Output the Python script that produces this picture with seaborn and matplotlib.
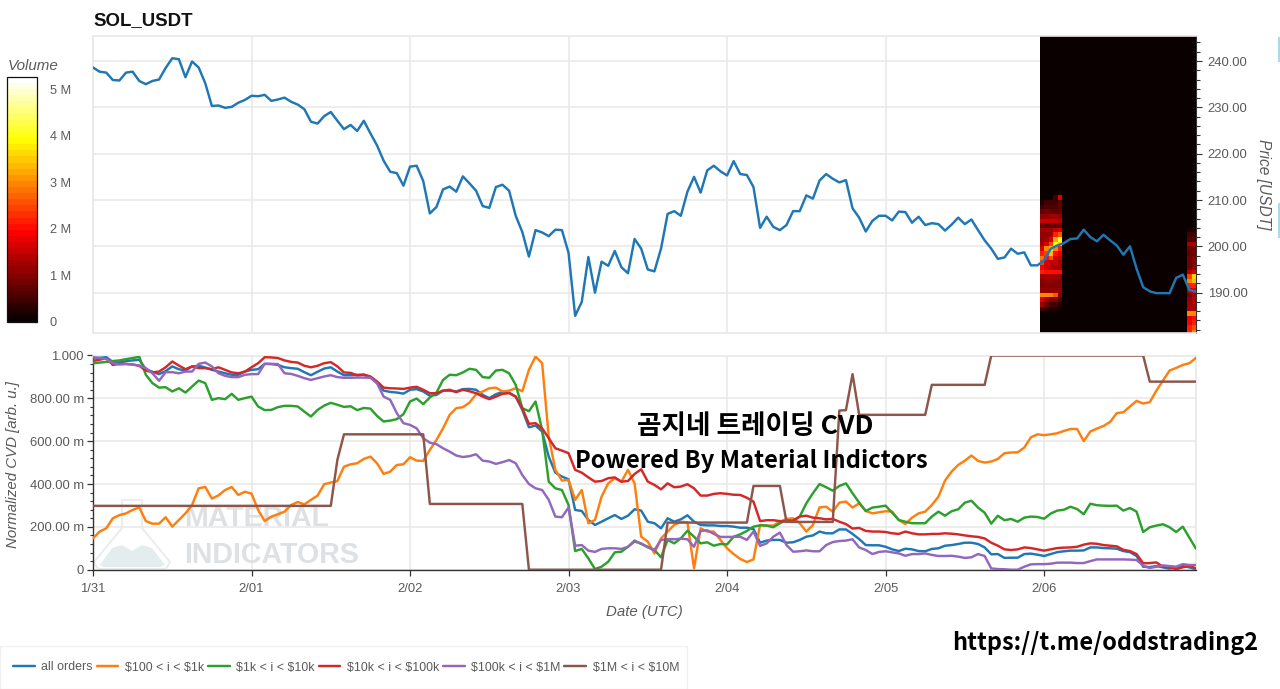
import numpy as np
import pandas as pd
import matplotlib
matplotlib.use("Agg")
import matplotlib.pyplot as plt
import seaborn as sns
from matplotlib.cm import ScalarMappable
from matplotlib.colors import Normalize
from matplotlib.patches import Polygon, Rectangle
from matplotlib.ticker import MultipleLocator, FuncFormatter

price = [238.6,237.7,237.5,235.9,235.8,237.5,237.7,235.7,235.0,235.7,236.0,238.5,240.6,240.4,236.5,239.9,238.6,235.2,230.3,230.4,229.9,230.1,231.0,231.6,
232.5,232.4,232.7,231.4,231.7,232.1,231.2,230.6,229.6,226.9,226.5,228.1,229.0,227.1,225.3,226.2,224.9,227.1,224.4,221.8,218.5,216.1,215.8,213.1,
217.2,217.4,214.1,207.1,208.5,212.3,212.9,211.8,215.1,213.6,212.0,208.7,208.3,212.8,213.3,212.0,206.6,203.1,197.8,203.5,203.0,202.2,203.6,203.5,
198.6,185.0,188.0,197.7,190.0,196.7,195.8,199.0,195.5,194.2,201.6,199.5,
195.0,194.6,199.5,207.0,207.6,206.6,211.8,215.0,211.6,216.4,217.4,216.2,215.3,218.4,215.6,215.4,212.8,204.0,206.4,204.2,203.5,204.6,207.6,207.6,
211.0,210.3,214.2,215.6,214.6,213.8,214.3,208.2,206.2,203.2,205.5,206.6,206.6,205.6,207.5,207.4,205.1,206.4,204.6,205.0,204.8,203.4,204.7,206.2,
204.8,205.8,203.5,201.3,199.5,197.3,197.6,199.5,198.4,198.7,195.9,195.9,197.0,199.5,200.2,200.7,201.6,201.7,203.6,202.0,201.1,202.5,201.3,200.2,
198.2,200.0,195.2,191.2,190.3,189.9,189.9,189.9,193.2,193.9,190.6,190.2]

all_orders = [.988,.989,.992,.970,.967,.974,.977,.980,.936,.924,.913,.927,.949,.936,.930,.949,.952,.944,.933,.925,.917,.910,.910,.925,.933,.936,.961,.960,.956,.945,.941,.938,.922,.908,.924,.939,.945,.925,.908,.908,.910,.910,.899,
.871,.836,.830,.827,.822,.840,.843,.832,.812,.816,.836,.836,.832,.843,.844,.840,.816,.801,.819,.830,.827,.808,.746,.665,.673,.645,.528,.453,.435,.422,.279,.274,.232,.209,.224,.240,.255,.237,.252,.282,.276,.224,
.217,.193,.240,.224,.235,.254,.224,.209,.207,.207,.204,.204,.201,.196,.196,.190,.126,.136,.139,.139,.126,.128,.139,.154,.160,.178,.170,.170,.188,.188,.167,.143,.115,.114,.114,.107,.095,.087,.098,.095,.087,.086,.097,
.100,.112,.115,.120,.126,.126,.120,.104,.072,.073,.055,.056,.056,.073,.075,.070,.064,.073,.082,.086,.089,.089,.090,.104,.104,.101,.100,.098,.087,.082,.064,.014,.012,.017,.011,.005,.011,.017,.011,.002]

orders_100_1k = [.146,.178,.193,.240,.255,.263,.279,.291,.227,.215,.215,.245,.201,.232,.263,.302,.380,.386,.332,.347,.372,.386,.349,.364,.355,.279,.227,.248,.259,.271,.302,.316,.305,.326,.346,.399,.407,.414,.481,.492,.497,.517,.528,
.497,.447,.458,.489,.492,.525,.509,.508,.559,.606,.660,.723,.754,.759,.780,.819,.832,.847,.850,.832,.836,.847,.833,.933,.995,.964,.621,.466,.416,.419,.326,.372,.217,.232,.341,.403,.427,.411,.466,.403,.154,.131,
.076,.146,.178,.209,.224,.221,.006,.193,.178,.178,.139,.100,.073,.050,.036,.048,.209,.206,.206,.224,.237,.240,.217,.178,.209,.291,.294,.271,.313,.318,.290,.310,.274,.263,.268,.273,.271,.232,.213,.243,.263,.271,.302,
.341,.416,.458,.489,.509,.533,.508,.500,.505,.517,.544,.547,.548,.570,.618,.632,.628,.632,.637,.648,.657,.657,.600,.645,.659,.671,.690,.731,.735,.762,.788,.776,.782,.836,.883,.930,.942,.956,.964,.989]

orders_1k_10k = [.964,.967,.970,.974,.977,.983,.988,.994,.910,.871,.850,.852,.832,.847,.827,.855,.883,.871,.793,.801,.796,.821,.793,.801,.808,.762,.745,.746,.759,.765,.765,.762,.738,.715,.746,.766,.779,.770,.760,.763,.745,.755,.752,
.718,.692,.696,.703,.726,.785,.799,.773,.804,.827,.886,.910,.908,.921,.938,.933,.899,.896,.930,.933,.917,.863,.754,.740,.785,.653,.411,.380,.372,.302,.087,.097,.053,.003,.014,.037,.081,.084,.107,.136,.120,.107,
.092,.058,.139,.123,.146,.182,.154,.123,.128,.112,.120,.118,.154,.165,.181,.201,.207,.206,.198,.217,.232,.229,.248,.310,.357,.400,.385,.369,.391,.403,.357,.313,.274,.290,.294,.299,.266,.232,.224,.217,.217,.217,.248,
.271,.252,.273,.282,.313,.322,.290,.266,.215,.252,.231,.237,.224,.243,.248,.246,.238,.262,.276,.280,.294,.283,.259,.308,.301,.299,.298,.299,.276,.288,.271,.176,.198,.206,.212,.198,.176,.201,.150,.098]

orders_10k_100k = [.975,.980,.988,.956,.961,.961,.958,.952,.930,.921,.925,.945,.972,.953,.936,.949,.941,.941,.936,.945,.933,.921,.917,.925,.945,.964,.992,.991,.988,.977,.970,.967,.952,.945,.952,.964,.969,.949,.921,.919,.907,.911,.902,
.879,.850,.847,.846,.844,.850,.854,.840,.824,.824,.836,.840,.829,.840,.833,.824,.808,.796,.808,.821,.824,.808,.754,.681,.684,.660,.614,.567,.556,.544,.466,.453,.431,.411,.414,.427,.431,.411,.414,.447,.469,.411,
.396,.375,.403,.385,.388,.399,.380,.346,.346,.354,.357,.354,.350,.349,.336,.318,.227,.231,.231,.227,.224,.229,.248,.252,.243,.240,.235,.237,.224,.213,.192,.195,.181,.178,.178,.176,.170,.167,.178,.170,.165,.165,.167,
.167,.170,.168,.165,.160,.156,.153,.146,.126,.112,.095,.092,.095,.104,.101,.095,.089,.095,.101,.103,.104,.107,.117,.123,.121,.115,.112,.109,.093,.087,.073,.030,.031,.034,.014,.011,.003,.011,.019,.006]

orders_100k_1m = [.992,.988,.984,.964,.958,.960,.958,.953,.941,.917,.882,.922,.922,.917,.925,.925,.961,.967,.949,.917,.905,.899,.899,.910,.913,.913,.961,.961,.960,.917,.914,.905,.894,.886,.894,.902,.908,.899,.896,.896,.897,.897,.896,
.871,.808,.793,.731,.684,.676,.660,.614,.593,.586,.567,.551,.533,.526,.530,.539,.509,.505,.494,.502,.512,.497,.442,.400,.380,.372,.326,.248,.245,.290,.112,.115,.089,.083,.097,.100,.100,.097,.107,.131,.123,.104,
.092,.139,.143,.142,.145,.142,.107,.181,.184,.167,.153,.153,.153,.154,.139,.178,.111,.123,.154,.173,.115,.084,.086,.090,.086,.086,.115,.129,.134,.136,.142,.104,.092,.073,.083,.086,.081,.076,.065,.073,.073,.076,.069,
.064,.064,.065,.061,.055,.058,.073,.064,.006,.003,.002,.000,.000,.014,.025,.026,.026,.028,.033,.033,.033,.031,.031,.040,.048,.048,.048,.048,.048,.047,.045,.019,.008,.014,.020,.017,.014,.026,.022,.022]

orders_1m_10m = [.298,.298,.298,.298,.298,.298,.298,.298,.298,.298,.298,.298,.298,.298,.298,.298,.298,.298,.298,.298,.298,.298,.298,.298,.298,.298,.298,.298,.298,.298,.298,.298,.298,.298,.298,.298,.298,
.513,.632,.632,.632,.632,.632,.632,.632,.632,.632,.632,.632,.632,.632,
.307,.307,.307,.307,.307,.307,.307,.307,.307,.307,.307,.307,.307,.307,.307,
0,0,0,0,0,0,0,0,0,0,0,0,0,0,0,0,0,0,0,0,0,
.220,.220,.220,.220,.220,.220,.220,.220,.220,.220,.220,.220,.220,
.391,.391,.391,.391,.391,
.223,.223,.223,.223,.223,.223,.223,.223,
.743,.745,.913,
.723,.723,.723,.723,.723,.723,.723,.723,.723,.723,.723,
.863,.863,.863,.863,.863,.863,.863,.863,.863,
1,1,1,1,1,1,1,1,1,1,1,1,1,1,1,1,1,1,1,1,1,1,1,1,
.878,.878,.878,.878,.878,.878,.878,.878]

series_names = ["all orders", "$100 < i < $1k", "$1k < i < $10k", "$10k < i < $100k", "$100k < i < $1M", "$1M < i < $10M"]
series_colors = ["#1f77b4", "#ff7f0e", "#2ca02c", "#d62728", "#9467bd", "#8c564b"]
day_labels = ["1/31", "2/01", "2/02", "2/03", "2/04", "2/05", "2/06"]

# volume in millions: price rows 181..211, low to high
heat_left = [
[.04,.04,.04,.04,.04],[.04,.04,.04,.04,.04],[.04,.04,.04,.04,.04],[.04,.04,.04,.04,.04],[.04,.04,.04,.04,.04],
[.5,.3,.15,.2,.1],[1.2,.8,.5,.5,.3],[1.6,1.2,1.0,1.0,.6],[3.0,3.0,3.0,2.6,1.0],[1.1,1.1,1.1,1.1,1.1],
[1.0,1.0,1.0,1.0,1.0],[1.0,1.1,1.1,1.0,1.0],[1.2,1.3,1.2,1.2,1.1],[2.2,2.1,2.0,2.0,2.0],[1.9,1.5,1.4,1.3,1.3],
[2.5,1.6,1.4,1.5,1.3],[2.8,2.0,2.6,1.6,1.5],[2.2,2.4,3.3,2.0,1.8],[1.6,3.0,3.5,3.0,2.2],[1.3,1.6,2.4,4.0,3.6],
[1.1,1.2,1.6,3.2,4.0],[1.1,1.1,1.3,2.2,2.6],[1.3,1.3,1.3,1.5,1.6],[.8,.7,.7,.7,.8],[1.5,1.5,1.5,1.5,1.4],
[1.1,1.1,1.2,1.2,1.1],[.7,.8,.7,.7,.7],[.5,.6,.6,.6,.7],[.15,.4,.4,.5,.7],[.05,.05,.05,.4,1.6],[.0,.0,.0,.05,.2]]
heat_right = [
[2.2,3.0],[2.2,2.6],[1.9,2.2],[1.8,2.0],[3.0,3.0],[1.2,1.3],[1.2,1.4],[1.1,1.4],[.9,1.2],[1.4,1.6],
[2.2,2.2],[3.0,3.4],[2.4,3.6],[1.4,1.7],[.9,1.1],[.9,1.0],[.8,1.0],[.7,.9],[.8,.8],[1.3,1.3],
[.6,.6],[.4,.4],[.2,.25],[.1,.1]]

W, H = 1280, 689
def rect(l, t, r, b):
    return [l / W, 1 - b / H, (r - l) / W, (b - t) / H]

sns.set_theme(style="white")
plt.rcParams["font.family"] = ["Liberation Sans", "Noto Sans CJK KR"]
GREY = "#5a5a5a"
GRID = "#e8e8e8"
LW = 1.75

fig = plt.figure(figsize=(W / 100, H / 100), dpi=100, facecolor="white")
ax1 = fig.add_axes(rect(93, 36, 1196, 333))
ax2 = fig.add_axes(rect(93, 355.5, 1196, 569.7))
cax = fig.add_axes(rect(7, 77, 37, 321.5))

hours = np.arange(len(price))
day_ticks = np.arange(len(day_labels)) * 24

# top panel
grid_time = np.linspace(143.35, 167.0, 36)
grid_price = np.arange(181, 247)
volume = np.zeros((len(grid_price) - 1, len(grid_time) - 1))
volume[:len(heat_left), :5] = heat_left
volume[:len(heat_right), -2:] = heat_right
cmap = matplotlib.colormaps["hot"].resampled(40)
norm = Normalize(0, 5.27)
ax1.pcolormesh(grid_time, grid_price, volume, cmap=cmap, norm=norm, zorder=1.5, rasterized=True)
sns.lineplot(x=hours, y=price, ax=ax1, color=series_colors[0], lw=LW, zorder=3, estimator=None)
ax1.set_xlim(0, 167)
ax1.set_ylim(181.3, 245.4)
ax1.yaxis.tick_right()
ax1.yaxis.set_label_position("right")
ax1.yaxis.set_major_locator(MultipleLocator(10))
ax1.yaxis.set_minor_locator(MultipleLocator(2))
ax1.yaxis.set_major_formatter(FuncFormatter(lambda v, p: f"{v:.2f}"))
ax1.set_xticks(day_ticks)
ax1.tick_params(axis="x", length=0, labelbottom=False)
ax1.tick_params(axis="y", which="major", right=True, length=4.5, width=0.8, color="#333333", labelsize=9.4, labelcolor=GREY, pad=4)
ax1.tick_params(axis="y", which="minor", right=True, length=2.8, width=0.8, color="#333333")
ax1.set_ylabel("Price [USDT]", rotation=270, style="italic", fontsize=11.2, color=GREY, labelpad=17)
ax1.grid(True, which="major", color=GRID, lw=1.1)
ax1.set_axisbelow(True)
for s in ["top", "left", "bottom"]:
    ax1.spines[s].set_color(GRID)
    ax1.spines[s].set_linewidth(1.2)
ax1.spines["right"].set_color("#333333")
ax1.spines["right"].set_linewidth(0.8)
fig.text(93 / W, 1 - 21 / H, "SOL_USDT", fontsize=13.4, fontweight="bold", color="#111111", va="center", ha="left")

# colour bar
sm = ScalarMappable(norm=norm, cmap=cmap)
cb = fig.colorbar(sm, cax=cax)
cb.set_ticks([0, 1, 2, 3, 4, 5], labels=["0", "1 M", "2 M", "3 M", "4 M", "5 M"])
cax.tick_params(axis="y", direction="in", length=2.5, width=0.8, color="#222222", labelsize=9.2, labelcolor=GREY, pad=9, right=True)
cb.outline.set_edgecolor("#111111")
cb.outline.set_linewidth(0.9)
fig.text(8 / W, 1 - 65.5 / H, "Volume", fontsize=10.9, style="italic", color=GREY, va="center", ha="left")

# lower panel
cvd = pd.DataFrame({"hour": hours, series_names[0]: all_orders, series_names[1]: orders_100_1k,
                    series_names[2]: orders_1k_10k, series_names[3]: orders_10k_100k,
                    series_names[4]: orders_100k_1m, series_names[5]: orders_1m_10m})
long = cvd.melt("hour", var_name="bucket", value_name="cvd")
sns.lineplot(data=long, x="hour", y="cvd", hue="bucket", hue_order=series_names,
             palette=dict(zip(series_names, series_colors)), lw=LW, ax=ax2, estimator=None, zorder=3)
handles, labels = ax2.get_legend_handles_labels()
ax2.get_legend().remove()
ax2.set_xlim(0, 167)
ax2.set_ylim(0, 1)
ax2.set_xticks(day_ticks, labels=day_labels)
ax2.yaxis.set_major_locator(MultipleLocator(0.2))
ax2.yaxis.set_minor_locator(MultipleLocator(0.04))
def cvd_fmt(v, p):
    if v < 1e-6:
        return "0"
    if v > 0.999:
        return "1.000"
    return f"{v * 1000:.2f} m"
ax2.yaxis.set_major_formatter(FuncFormatter(cvd_fmt))
ax2.tick_params(axis="x", which="major", bottom=True, length=4.5, width=0.9, color="#333333", labelsize=9.4, labelcolor=GREY, pad=5)
ax2.tick_params(axis="y", which="major", left=True, length=4.5, width=0.9, color="#333333", labelsize=9.4, labelcolor=GREY, pad=2)
ax2.tick_params(axis="y", which="minor", left=True, length=2.4, width=0.8, color="#333333")
ax2.grid(True, which="major", color=GRID, lw=1.1)
ax2.set_axisbelow(True)
ax2.set_xlabel("Date (UTC)", style="italic", fontsize=10.8, color=GREY)
ax2.xaxis.set_label_coords(0.5, -0.165)
ax2.set_ylabel("Normalized CVD [arb. u.]", style="italic", fontsize=10.8, color=GREY)
ax2.yaxis.set_label_coords((20 - 93) / 1103, 0.49)
ax2.spines["top"].set_color(GRID)
ax2.spines["right"].set_color(GRID)
ax2.spines["top"].set_linewidth(1.2)
ax2.spines["right"].set_linewidth(1.2)
for s in ["left", "bottom"]:
    ax2.spines[s].set_color("#333333")
    ax2.spines[s].set_linewidth(1.0)

# watermark
WM = "#dde1e4"
ax2.text((184 - 93) / 1103, (569.7 - 519) / 214.2, "MATERIAL", transform=ax2.transAxes, fontsize=20.5, fontweight="bold", color=WM, va="center", ha="left", zorder=1)
ax2.text((184 - 93) / 1103, (569.7 - 555) / 214.2, "INDICATORS", transform=ax2.transAxes, fontsize=20.6, fontweight="bold", color=WM, va="center", ha="left", zorder=1)
def px(pts):
    return [(x / W, 1 - y / H) for x, y in pts]
fig.add_artist(Polygon(px([(122, 500), (142, 500), (142, 528), (170, 562), (166, 569), (98, 569), (94, 562), (122, 528)]),
                       closed=True, fill=False, edgecolor="#e9edee", lw=1.4, zorder=0.5))
fig.add_artist(Polygon(px([(100, 565), (112, 548), (122, 545), (132, 551), (142, 545), (152, 548), (165, 565), (160, 567), (104, 567)]),
                       closed=True, facecolor="#e4edee", edgecolor="none", zorder=0.5))
ax1.set_zorder(2); ax2.set_zorder(2)
ax1.patch.set_alpha(0); ax2.patch.set_alpha(0)

# overlay captions
KR = "Noto Sans CJK KR"
fig.text(755 / W, 1 - 426.5 / H, "곰지네 트레이딩 CVD", family=[KR, "DejaVu Sans"], fontsize=19.2, fontweight="bold", color="black", ha="center", va="center", zorder=10)
fig.text(751.5 / W, 1 - 461 / H, "Powered By Material Indictors", family=[KR, "DejaVu Sans"], fontsize=17.1, fontweight="bold", color="black", ha="center", va="center", zorder=10)
fig.text(1105 / W, 1 - 643 / H, "https://t.me/oddstrading2", family=[KR, "DejaVu Sans"], fontsize=16.9, fontweight="bold", color="black", ha="center", va="center", zorder=10)

# legend
fig.add_artist(Rectangle((0, 0), 687 / W, 43.5 / H, transform=fig.transFigure, facecolor="white", edgecolor="#f0f0f0", lw=1.0, zorder=0.4))
leg = fig.legend(handles, labels, loc="center left", bbox_to_anchor=(13 / W, 1 - 667.5 / H), ncol=6, frameon=False,
                 fontsize=8.9, handlelength=1.75, handletextpad=0.55, columnspacing=0.3, borderpad=0, borderaxespad=0)
for t in leg.get_texts():
    t.set_color(GREY)
    t.set_parse_math(False)
for l in leg.get_lines():
    l.set_linewidth(LW)

# clipped teal widgets on the right edge
fig.add_artist(Rectangle((1278 / W, 1 - 62 / H), 2 / W, 25 / H, transform=fig.transFigure, facecolor="#a9dbe6", edgecolor="none"))
fig.add_artist(Rectangle((1278 / W, 1 - 238 / H), 2 / W, 35 / H, transform=fig.transFigure, facecolor="#a9dbe6", edgecolor="none"))

fig.savefig("out.png", dpi=100, facecolor="white")
